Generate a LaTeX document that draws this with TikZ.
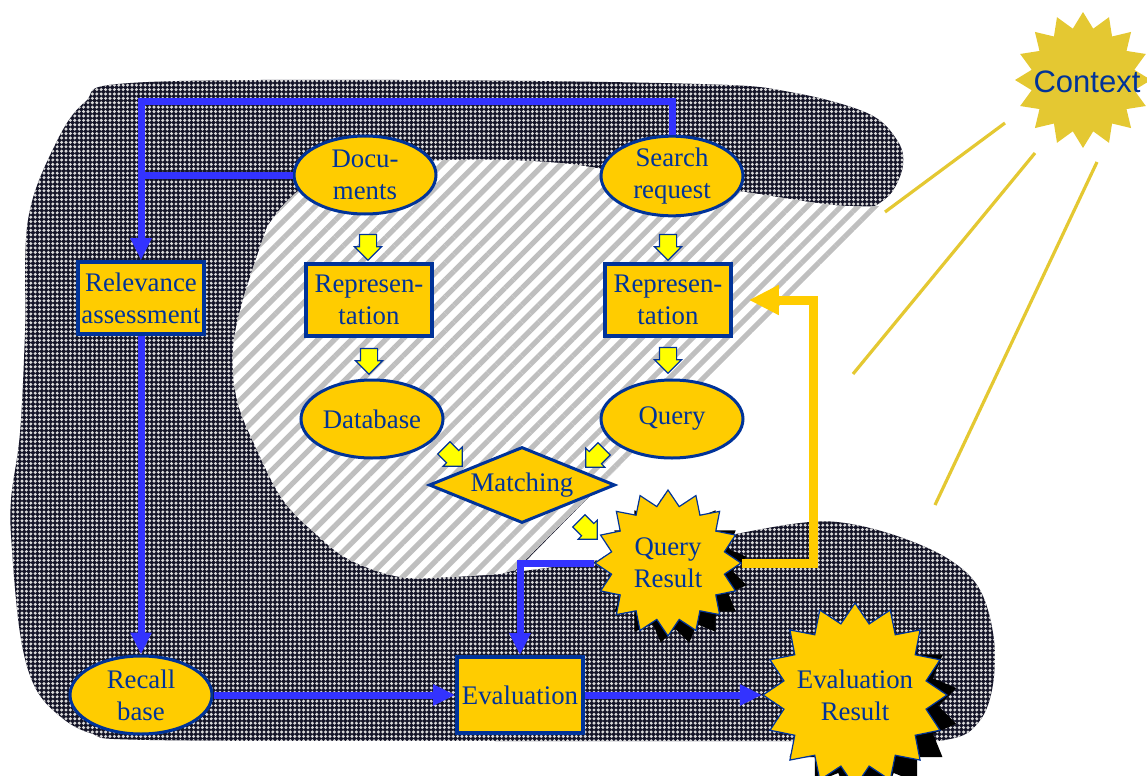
\documentclass[tikz,border=0pt]{standalone}
\usepackage{fontspec}
\setmainfont{Liberation Serif}
\newfontfamily\ctxfont{Liberation Sans}
\usetikzlibrary{arrows.meta,positioning,shapes.geometric,shapes.arrows,patterns.meta}
\definecolor{irblue}{RGB}{0,51,153}
\definecolor{irgold}{RGB}{255,204,0}
\definecolor{flowblue}{RGB}{51,51,255}
\definecolor{ctxgold}{RGB}{228,200,50}
\definecolor{hintyellow}{RGB}{255,255,0}
\definecolor{darkbg}{RGB}{20,20,40}

\begin{document}
\begin{tikzpicture}[
  x=0.5pt, y=-0.5pt,
  every node/.style={font=\fontsize{13.4}{16}\selectfont, text=irblue, align=center},
  item/.style={ellipse, draw=irblue, line width=1.5pt, fill=irgold,
    minimum width=71pt, minimum height=39pt, inner sep=0pt},
  stepbox/.style={rectangle, draw=irblue, line width=1.8pt, fill=irgold,
    minimum width=63pt, minimum height=36pt, inner sep=1pt},
  result/.style={star, star points=16, star point ratio=1.27, draw=irblue,
    line width=0.6pt, fill=irgold, inner sep=0pt},
  shade/.style={star, star points=16, star point ratio=1.27, fill=black,
    inner sep=0pt, rotate=11.25},
  hint/.style={single arrow, draw=irblue, line width=0.6pt, fill=hintyellow,
    minimum height=12.5pt, inner sep=4pt, single arrow head extend=2.4pt,
    single arrow head indent=0pt},
  flow/.style={line width=3.5pt, draw=flowblue},
  arrow/.style={flow, -{Triangle[length=11pt,width=10pt]}},
  feedback/.style={line width=4.5pt, draw=irgold, -{Triangle[length=15pt,width=14pt]}},
  ray/.style={line width=1.6pt, draw=ctxgold},
  darkblob/.style={preaction={fill=darkbg}, pattern={Dots[distance=2.2pt,radius=0.85pt]},
    pattern color=gray!30!white},
  hatchzone/.style={preaction={fill=white}, pattern={Lines[angle=45,distance=6pt,line width=2.6pt]},
    pattern color=gray!50}
]
\useasboundingbox (0,0) rectangle (1147,776);

% background zones
\fill[darkblob] plot[smooth, tension=0.6] coordinates {(515,572) (560,566) (640,553) (720,537)
  (800,523) (845,523) (900,537) (950,560) (980,590) (994,640) (992,690) (978,723) (950,739)
  (880,741) (500,741) (150,740) (90,733) (55,712) (33,683) (20,633) (12,550) (11,500) (20,433)
  (25,333) (28,220) (55,145) (85,102) (130,83) (400,80) (700,84) (790,92) (867,113) (897,140)
  (903,165) (892,192) (875,206)} -- cycle;
\fill[hatchzone] plot[smooth, tension=0.6] coordinates {(267,227) (300,190) (360,168) (450,160)
  (560,163) (650,178) (745,192) (833,205) (880,206)} -- (515,570)
  -- plot[smooth, tension=0.6] coordinates {(500,574) (450,577) (400,577) (350,560) (317,535)
  (283,500) (257,450) (237,400) (233,350) (243,300) (267,227)} -- cycle;

% context
\node[star, star points=16, star point ratio=1.3, fill=ctxgold, inner sep=0pt,
  minimum size=68pt] (context) at (1083,80) {};
\node[font=\ctxfont\fontsize{15.5}{18}\selectfont] (contextlbl) at (1087,82) {Context};
\coordinate (r1a) at (885,212); \coordinate (r1b) at (1005,123);
\coordinate (r2a) at (853,374); \coordinate (r2b) at (1035,153);
\coordinate (r3a) at (935,505); \coordinate (r3b) at (1097,162);
\draw[ray] (r1a) -- (r1b);
\draw[ray] (r2a) -- (r2b);
\draw[ray] (r3a) -- (r3b);

\node[item] (docs) at (365,175) {Docu-\\ments};
\node[item] (search) at (672,176) {Search\\request};
\node[stepbox] (relev) at (141,298) {Relevance\\assessment};
\node[stepbox] (repl) at (369,300) {Represen-\\tation};
\node[stepbox] (repr) at (668,300) {Represen-\\tation};
\node[item] (db) at (372,419) {Database};
\node[item] (query) at (672,419) {Query};
\node[diamond, aspect=2.45, draw=irblue, line width=1.5pt, fill=irgold, inner sep=0pt,
  minimum width=93pt, minimum height=38pt] (match) at (522,485) {Matching};
\node[shade, minimum size=73pt] (qresshade) at (675,571) {};
\node[result, minimum size=73pt] (qres) at (668,563) {};
\node (qreslbl) at (668,563) {Query\\Result};
\node[item] (recall) at (141,695) {Recall\\base};
\node[stepbox, minimum height=38pt] (eval) at (520,695) {Evaluation};
\node[shade, minimum size=92pt] (evresshade) at (866,706) {};
\node[result, minimum size=92pt] (evres) at (855,695) {};
\node (evreslbl) at (855,695) {Evaluation\\Result};

\node[hint, rotate=-90] (h1) at (368,243) {};
\node[hint, rotate=-90] (h2) at (369,357) {};
\node[hint, rotate=-90] (h3) at (668,243) {};
\node[hint, rotate=-90] (h4) at (668,356) {};
\node[hint, rotate=-45] (h5) at (450,454) {};
\node[hint, rotate=-135] (h6) at (598,455) {};
\node[hint, rotate=-45] (h7) at (585,527) {};

\draw[arrow] (search.north) -- ++(0,-33) -| (relev.north);
\draw[flow] (docs.west) -- (docs.west -| relev.north);
\draw[arrow] (relev.south) -- (recall.north);
\draw[arrow] (recall.east) -- (eval.west);
\draw[arrow] (qres.west) -| (eval.north);
\draw[arrow] (eval.east) -- (evres.west);
\draw[feedback, shorten >=8pt] (qres.east) -- ++(71,0) |- (repr.east);
\end{tikzpicture}
\end{document}
